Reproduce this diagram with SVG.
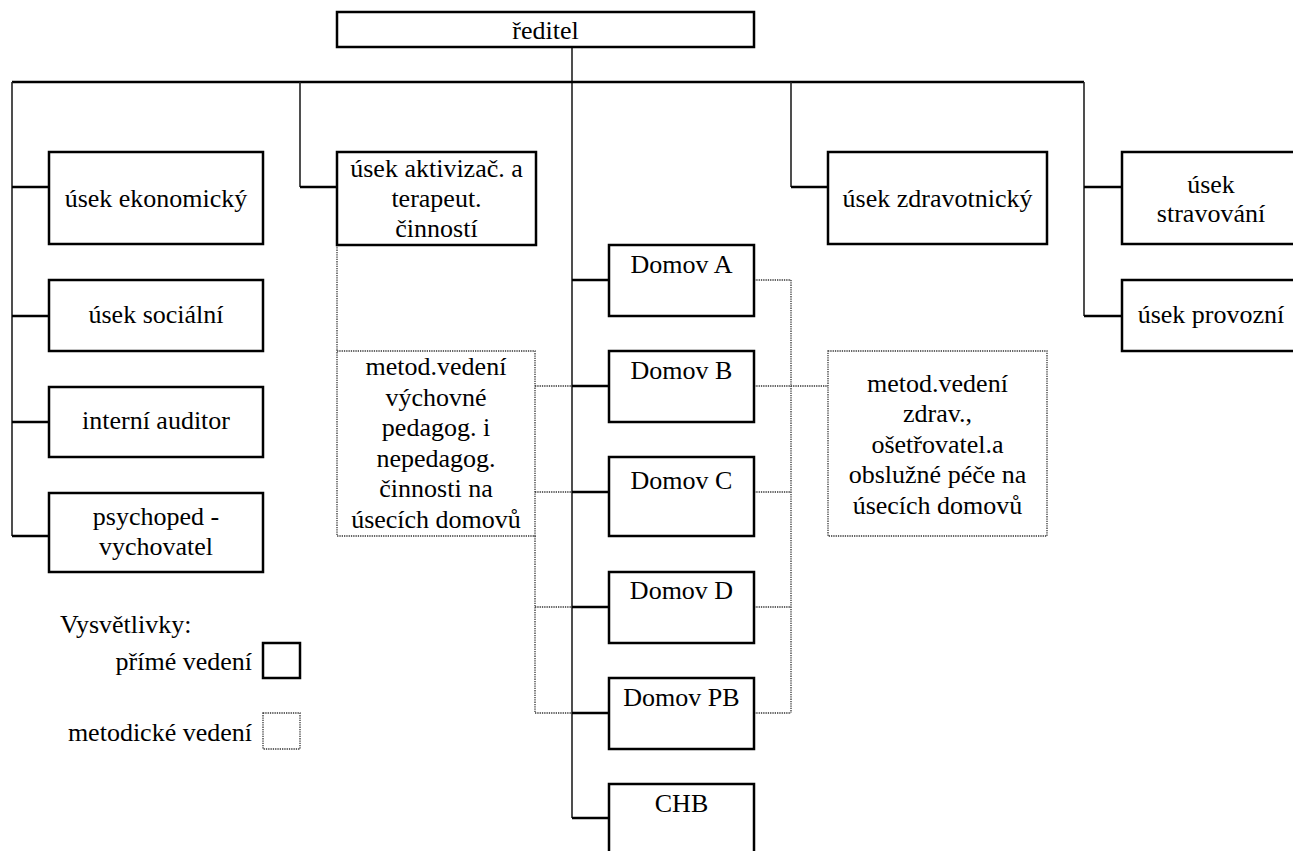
<svg xmlns="http://www.w3.org/2000/svg" width="1293" height="851" viewBox="0 0 1293 851">
<style>
.box{fill:#fff;stroke:#000;stroke-width:2.5}
.dbox{fill:none;stroke:#333;stroke-width:1.3;stroke-dasharray:1.3 1}
.ln{fill:none;stroke:#000;stroke-width:2.5}
.vl{fill:none;stroke:#222;stroke-width:1.6}
.dl{fill:none;stroke:#333;stroke-width:1.3;stroke-dasharray:1.3 1}
</style>
<rect width="1293" height="851" fill="#fff"/>
<g id="connectors">
<polyline class="vl" points="572,47 572,818"/>
<polyline class="ln" points="12,82 1084,82"/>
<polyline class="vl" points="12,82 12,536"/>
<polyline class="ln" points="12,187 49,187"/>
<polyline class="ln" points="12,316 49,316"/>
<polyline class="ln" points="12,422 49,422"/>
<polyline class="ln" points="12,536 49,536"/>
<polyline class="vl" points="300,82 300,187"/>
<polyline class="ln" points="300,187 337,187"/>
<polyline class="vl" points="791,82 791,187"/>
<polyline class="ln" points="791,187 828,187"/>
<polyline class="vl" points="1084,82 1084,316"/>
<polyline class="ln" points="1084,187 1122,187"/>
<polyline class="ln" points="1084,316 1122,316"/>
<polyline class="ln" points="572,280 609,280"/>
<polyline class="ln" points="572,386 609,386"/>
<polyline class="ln" points="572,492 609,492"/>
<polyline class="ln" points="572,607 609,607"/>
<polyline class="ln" points="572,713 609,713"/>
<polyline class="ln" points="572,818 609,818"/>
<polyline class="dl" points="337,245 337,351"/>
<polyline class="dl" points="535,536 535,713"/>
<polyline class="dl" points="535,386 572,386"/>
<polyline class="dl" points="535,492 572,492"/>
<polyline class="dl" points="535,607 572,607"/>
<polyline class="dl" points="535,713 572,713"/>
<polyline class="dl" points="791,280 791,713"/>
<polyline class="dl" points="754,280 791,280"/>
<polyline class="dl" points="754,386 828,386"/>
<polyline class="dl" points="754,492 791,492"/>
<polyline class="dl" points="754,607 791,607"/>
<polyline class="dl" points="754,713 791,713"/>
</g>
<g font-family="Liberation Serif" font-size="26" fill="#000" text-anchor="middle">
<g id="reditel"><rect class="box" x="337" y="12" width="417" height="35"/><text x="545.5" y="39">ředitel</text></g>
<g id="ekonomicky"><rect class="box" x="49" y="152" width="214" height="92"/><text x="156" y="207">úsek ekonomický</text></g>
<g id="socialni"><rect class="box" x="49" y="280" width="214" height="71"/><text x="156" y="323">úsek sociální</text></g>
<g id="auditor"><rect class="box" x="49" y="387" width="214" height="70"/><text x="156" y="429">interní auditor</text></g>
<g id="psychoped"><rect class="box" x="49" y="493" width="214" height="79"/><text x="156" y="525">psychoped -</text><text x="156" y="555">vychovatel</text></g>
<g id="aktivizac"><rect class="box" x="337" y="152" width="199" height="93"/><text x="436.5" y="177">úsek aktivizač. a</text><text x="436.5" y="207">terapeut.</text><text x="436.5" y="237">činností</text></g>
<g id="zdravotnicky"><rect class="box" x="828" y="152" width="219" height="92"/><text x="937.5" y="207">úsek zdravotnický</text></g>
<g id="stravovani"><rect class="box" x="1122" y="152" width="180" height="92"/><text x="1211" y="193">úsek</text><text x="1211" y="222">stravování</text></g>
<g id="provozni"><rect class="box" x="1122" y="280" width="180" height="71"/><text x="1211" y="323">úsek provozní</text></g>
<g id="domovA"><rect class="box" x="609" y="245" width="145" height="71"/><text x="681.5" y="273">Domov A</text></g>
<g id="domovB"><rect class="box" x="609" y="351" width="145" height="71"/><text x="681.5" y="379">Domov B</text></g>
<g id="domovC"><rect class="box" x="609" y="457" width="145" height="79"/><text x="681.5" y="489">Domov C</text></g>
<g id="domovD"><rect class="box" x="609" y="572" width="145" height="71"/><text x="681.5" y="599">Domov D</text></g>
<g id="domovPB"><rect class="box" x="609" y="678" width="145" height="71"/><text x="681.5" y="706">Domov PB</text></g>
<g id="CHB"><rect class="box" x="609" y="784" width="145" height="80"/><text x="681.5" y="812">CHB</text></g>
<g id="metodLeft"><rect class="dbox" x="337" y="351" width="198" height="185"/><text x="436" y="375">metod.vedení</text><text x="436" y="405.5">výchovné</text><text x="436" y="436">pedagog. i</text><text x="436" y="466.5">nepedagog.</text><text x="436" y="497">činnosti na</text><text x="436" y="527.5">úsecích domovů</text></g>
<g id="metodRight"><rect class="dbox" x="828" y="351" width="219" height="185"/><text x="937.5" y="391.5">metod.vedení</text><text x="937.5" y="422">zdrav.,</text><text x="937.5" y="452.5">ošetřovatel.a</text><text x="937.5" y="483">obslužné péče na</text><text x="937.5" y="513.5">úsecích domovů</text></g>
<g id="legend">
<text text-anchor="start" x="60" y="633">Vysvětlivky:</text>
<text text-anchor="end" x="252" y="670">přímé vedení</text>
<rect class="box" x="263" y="643" width="37" height="35"/>
<text text-anchor="end" x="252" y="741">metodické vedení</text>
<rect class="dbox" x="263" y="713" width="37" height="36"/>
</g>
</g>
</svg>
